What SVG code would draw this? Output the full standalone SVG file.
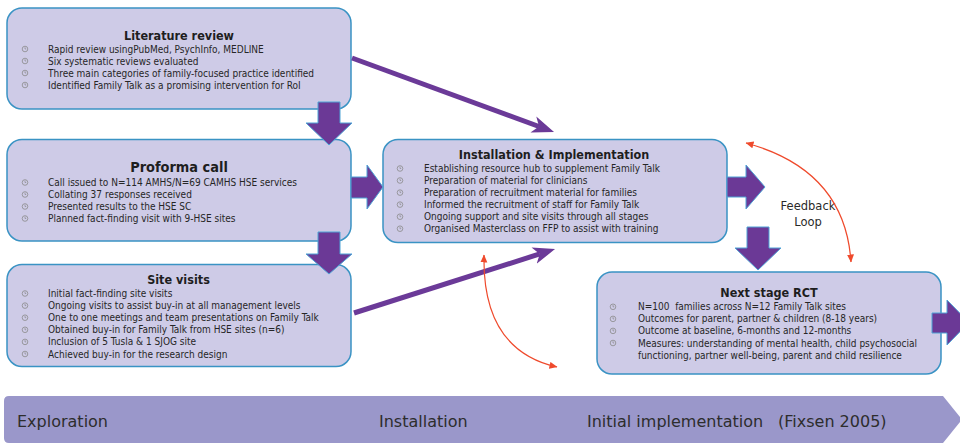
<svg xmlns="http://www.w3.org/2000/svg" xmlns:xlink="http://www.w3.org/1999/xlink" width="960" height="444" viewBox="0 0 960 444">
  <style>
    .box { fill: #cecbe7; stroke: #3a93c4; stroke-width: 1.5; }
    .title { font-family: "DejaVu Sans Condensed", "DejaVu Sans", sans-serif; font-weight: bold; font-size: 12.5px; fill: #1e1e1e; text-anchor: middle; }
    .big { font-size: 14.4px; }
    .item { font-family: "DejaVu Sans Condensed", "DejaVu Sans", sans-serif; font-size: 10px; fill: #262626; white-space: pre; }
    .block { fill: #6b3996; stroke: #4fa3d6; stroke-width: 1; }
    .thick { fill: none; stroke: #6b3a98; stroke-width: 5; marker-end: url(#head); }
    .loop { fill: none; stroke: #ef4a2c; stroke-width: 1.2; marker-start: url(#red); marker-end: url(#red); }
    .stage { font-family: "DejaVu Sans", sans-serif; font-size: 16px; fill: #2d2d2d; }
    .note { font-family: "DejaVu Sans", sans-serif; font-size: 11.5px; fill: #2a2a2a; text-anchor: middle; }
  </style>
  <defs>
    <symbol id="bul" viewBox="-4 -4 8 8" width="8" height="8" overflow="visible">
      <circle r="2.8" fill="none" stroke="#8a8a8a" stroke-width="0.8"/>
      <path d="M0,-1.8 V0 H1.2" fill="none" stroke="#8a8a8a" stroke-width="0.7"/>
    </symbol>
    <marker id="head" markerUnits="userSpaceOnUse" viewBox="0 -9 22 18" refX="6" refY="0" markerWidth="22" markerHeight="18" orient="auto">
      <path d="M0,-8.5 L22,0 L0,8.5 L6,0 Z" fill="#6b3a98"/>
    </marker>
    <marker id="red" markerUnits="userSpaceOnUse" viewBox="0 -4 8 8" refX="7.5" refY="0" markerWidth="8" markerHeight="8" orient="auto-start-reverse">
      <path d="M0,-3.5 L8,0 L0,3.5 Z" fill="#ef4a2c"/>
    </marker>
  </defs>

  <rect width="960" height="444" fill="#ffffff"/>

  <!-- stage banner along the bottom -->
  <g id="stages">
    <path d="M9,396 H943 L962,419.5 L943,443 H9 Q4,443 4,438 V401 Q4,396 9,396 Z" fill="#9a97ca"/>
    <text class="stage" x="17" y="427">Exploration</text>
    <text class="stage" x="379" y="427">Installation</text>
    <text class="stage" x="587" y="427">Initial implementation<tspan x="778">(Fixsen 2005)</tspan></text>
  </g>

  <g id="literature-review">
    <rect class="box" x="7" y="8" width="344" height="101" rx="15"/>
    <text class="title" x="179" y="39.5">Literature review</text>
    <use href="#bul" x="21" y="45"/>
    <use href="#bul" x="21" y="57"/>
    <use href="#bul" x="21" y="69"/>
    <use href="#bul" x="21" y="81"/>
    <text class="item" x="48" y="52.5">Rapid review usingPubMed, PsychInfo, MEDLINE</text>
    <text class="item" x="48" y="64.5">Six systematic reviews evaluated</text>
    <text class="item" x="48" y="76.5">Three main categories of family-focused practice identified</text>
    <text class="item" x="48" y="88.5">Identified Family Talk as a promising intervention for RoI</text>
  </g>

  <g id="proforma-call">
    <rect class="box" x="7" y="139.5" width="344" height="101.5" rx="15"/>
    <text class="title big" x="179" y="171.7">Proforma call</text>
    <use href="#bul" x="21" y="178.5"/>
    <use href="#bul" x="21" y="190.5"/>
    <use href="#bul" x="21" y="202.5"/>
    <use href="#bul" x="21" y="214.5"/>
    <text class="item" x="48" y="186">Call issued to N=114 AMHS/N=69 CAMHS HSE services</text>
    <text class="item" x="48" y="198">Collating 37 responses received</text>
    <text class="item" x="48" y="210">Presented results to the HSE SC</text>
    <text class="item" x="48" y="222">Planned fact-finding visit with 9-HSE sites</text>
  </g>

  <g id="site-visits">
    <rect class="box" x="7" y="264.5" width="344" height="102" rx="15"/>
    <text class="title" x="178.5" y="284.3">Site visits</text>
    <use href="#bul" x="21" y="289.5"/>
    <use href="#bul" x="21" y="301.6"/>
    <use href="#bul" x="21" y="313.7"/>
    <use href="#bul" x="21" y="325.8"/>
    <use href="#bul" x="21" y="337.9"/>
    <use href="#bul" x="21" y="350"/>
    <text class="item" x="48" y="297">Initial fact-finding site visits</text>
    <text class="item" x="48" y="309.1">Ongoing visits to assist buy-in at all management levels</text>
    <text class="item" x="48" y="321.2">One to one meetings and team presentations on Family Talk</text>
    <text class="item" x="48" y="333.3">Obtained buy-in for Family Talk from HSE sites (n=6)</text>
    <text class="item" x="48" y="345.4">Inclusion of 5 Tusla &amp; 1 SJOG site</text>
    <text class="item" x="48" y="357.5">Achieved buy-in for the research design</text>
  </g>

  <g id="installation-implementation">
    <rect class="box" x="383" y="139.5" width="344" height="103" rx="15"/>
    <text class="title" x="554" y="159">Installation &amp; Implementation</text>
    <use href="#bul" x="396" y="164.5"/>
    <use href="#bul" x="396" y="176.5"/>
    <use href="#bul" x="396" y="188.6"/>
    <use href="#bul" x="396" y="200.6"/>
    <use href="#bul" x="396" y="212.7"/>
    <use href="#bul" x="396" y="224.7"/>
    <text class="item" x="424" y="172">Establishing resource hub to supplement Family Talk</text>
    <text class="item" x="424" y="184">Preparation of material for clinicians</text>
    <text class="item" x="424" y="196.1">Preparation of recruitment material for families</text>
    <text class="item" x="424" y="208.1">Informed the recruitment of staff for Family Talk</text>
    <text class="item" x="424" y="220.2">Ongoing support and site visits through all stages</text>
    <text class="item" x="424" y="232.2">Organised Masterclass on FFP to assist with training</text>
  </g>

  <g id="next-stage-rct">
    <rect class="box" x="597" y="272" width="344" height="102" rx="15"/>
    <text class="title" x="769" y="297">Next stage RCT</text>
    <use href="#bul" x="609" y="302.8"/>
    <use href="#bul" x="609" y="314.9"/>
    <use href="#bul" x="609" y="326.9"/>
    <use href="#bul" x="609" y="339"/>
    <text class="item" x="638" y="310.3" xml:space="preserve">N=100  families across N=12 Family Talk sites</text>
    <text class="item" x="638" y="322.4">Outcomes for parent, partner &amp; children (8-18 years)</text>
    <text class="item" x="638" y="334.4">Outcome at baseline, 6-months and 12-months</text>
    <text class="item" x="638" y="346.5">Measures: understanding of mental health, child psychosocial</text>
    <text class="item" x="638" y="358.6">functioning, partner well-being, parent and child resilience</text>
  </g>

  <g id="feedback-label">
    <text class="note" x="808" y="210">Feedback</text>
    <text class="note" x="808" y="226">Loop</text>
  </g>

  <g id="connectors">
    <!-- block arrows between stages -->
    <polygon class="block" points="318,102 340,102 340,123 352,123 329,145 306,123 318,123"/>
    <polygon class="block" points="318,232 340,232 340,254 352,254 329,274 306,254 318,254"/>
    <polygon class="block" points="351,177 367,177 367,165 383,187 367,209 367,198 351,198"/>
    <polygon class="block" points="727,177 746,177 746,165 765,187 746,209 746,197 727,197"/>
    <polygon class="block" points="747,227 769,227 769,248 781,248 758,270 735,248 747,248"/>
    <polygon class="block" points="932,313 947,313 947,300 969,322.5 947,345 947,333 932,333"/>
    <!-- thin purple links into installation -->
    <path class="thick" d="M352,58 L539,126.5"/>
    <path class="thick" d="M354,313 L539.8,253.9"/>
    <!-- feedback curves -->
    <path class="loop" d="M746,143 Q845,170 851,262"/>
    <path class="loop" d="M484,255 Q482,350 557,367"/>
  </g>
</svg>
